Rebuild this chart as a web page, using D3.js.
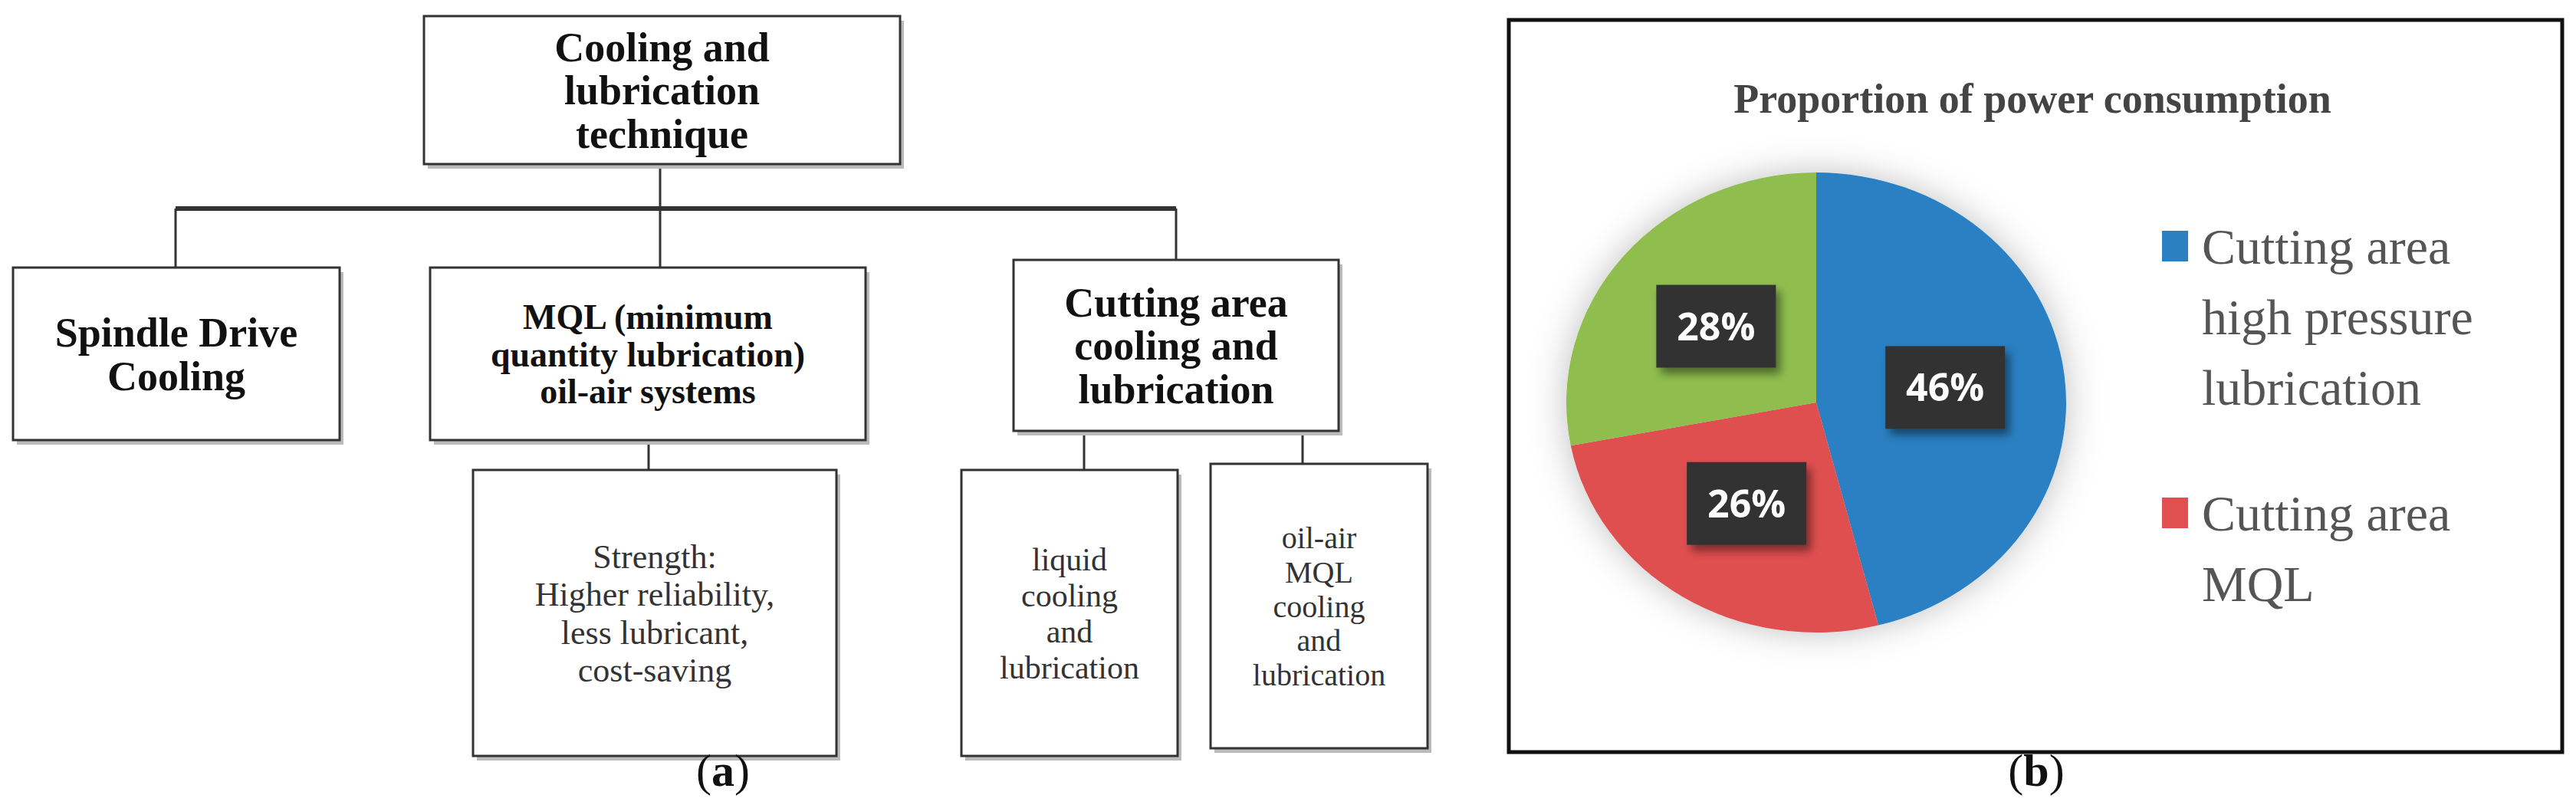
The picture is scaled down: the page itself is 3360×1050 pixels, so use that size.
<!DOCTYPE html>
<html><head><meta charset="utf-8">
<script src="https://cdn.jsdelivr.net/npm/d3@7"></script>
<style>body{margin:0;background:#fff}svg{display:block}</style>
</head><body><div></div>
<script>
const sliceLabels = ["Cutting area high pressure lubrication", "Cutting area MQL", "Other"];
const sliceValues = [46, 26, 28];
const sliceColors = ["#2b80c2", "#e05050", "#8fbe50"];
const legendLines = [["Cutting area", "high pressure", "lubrication"], ["Cutting area", "MQL"]];

const nodes = [
  { id: "root", lines: ["Cooling and", "lubrication", "technique"], x: 553, y: 21, w: 621, h: 193, fs: 54, bold: true },
  { id: "spindle", lines: ["Spindle Drive", "Cooling"], x: 17, y: 349, w: 426, h: 225, fs: 54, bold: true },
  { id: "mql", lines: ["MQL (minimum", "quantity lubrication)", "oil-air systems"], x: 561, y: 349, w: 568, h: 225, fs: 46, bold: true },
  { id: "cut", lines: ["Cutting area", "cooling and", "lubrication"], x: 1322, y: 339, w: 424, h: 223, fs: 54, bold: true },
  { id: "strength", lines: ["Strength:", "Higher reliability,", "less lubricant,", "cost-saving"], x: 617, y: 613, w: 474, h: 373, fs: 44, bold: false },
  { id: "liquid", lines: ["liquid", "cooling", "and", "lubrication"], x: 1254, y: 613, w: 282, h: 373, fs: 42, bold: false },
  { id: "oilair", lines: ["oil-air", "MQL", "cooling", "and", "lubrication"], x: 1579, y: 605, w: 283, h: 371, fs: 40, bold: false }
];

const svg = d3.select("div").append("svg").attr("width", 3360).attr("height", 1050);
const defs = svg.append("defs");
const sh = defs.append("filter").attr("id", "sh").attr("x", "-30%").attr("y", "-30%").attr("width", "160%").attr("height", "160%");
sh.append("feDropShadow").attr("dx", 6).attr("dy", 8).attr("stdDeviation", 6).attr("flood-color", "#000").attr("flood-opacity", 0.45);
const psh = defs.append("filter").attr("id", "psh").attr("x", "-30%").attr("y", "-30%").attr("width", "160%").attr("height", "160%");
psh.append("feDropShadow").attr("dx", 0).attr("dy", 0).attr("stdDeviation", 22).attr("flood-color", "#000").attr("flood-opacity", 0.25);

// --- tree (a)
const tree = svg.append("g").attr("stroke", "#333").attr("fill", "none").attr("stroke-width", 3);
const links = [
  [861, 214, 861, 272], [229, 272, 1534, 272], [229, 272, 229, 349], [861, 272, 861, 349],
  [1534, 272, 1534, 339], [846, 574, 846, 613], [1414, 562, 1414, 613], [1699, 562, 1699, 605]
];
tree.selectAll("line").data(links).join("line")
  .attr("x1", d => d[0]).attr("y1", d => d[1]).attr("x2", d => d[2]).attr("y2", d => d[3])
  .attr("stroke-width", (d, i) => i === 1 ? 6 : 3);

const ng = svg.selectAll("g.node").data(nodes).join("g").attr("class", "node");
ng.append("rect").attr("x", d => d.x + 5).attr("y", d => d.y + 6).attr("width", d => d.w).attr("height", d => d.h)
  .attr("fill", "#bbb");
ng.append("rect").attr("x", d => d.x).attr("y", d => d.y).attr("width", d => d.w).attr("height", d => d.h)
  .attr("fill", "#fff").attr("stroke", "#333").attr("stroke-width", 3);
ng.each(function (d) {
  const lh = d.fs * (d.bold ? 1.05 : 1.12);
  const y0 = d.y + d.h / 2 - (d.lines.length - 1) * lh / 2;
  d3.select(this).selectAll("text").data(d.lines).join("text")
    .attr("x", d.x + d.w / 2).attr("y", (t, i) => y0 + i * lh).attr("dy", "0.35em")
    .attr("text-anchor", "middle").attr("font-family", "Liberation Serif, serif")
    .attr("font-size", d.fs).attr("font-weight", d.bold ? "bold" : "normal")
    .attr("textLength", t => t.length * d.fs * 0.42 > d.w - 16 ? d.w - 16 : null)
    .attr("lengthAdjust", "spacingAndGlyphs")
    .attr("fill", d.bold ? "#111" : "#333").text(t => t);
});

const capFont = "Liberation Serif, serif";
svg.append("text").attr("x", 943).attr("y", 1025).attr("text-anchor", "middle")
  .attr("font-family", capFont).attr("font-size", 60).attr("fill", "#111")
  .html('(<tspan font-weight="bold">a</tspan>)');

// --- pie (b)
svg.append("rect").attr("x", 1968).attr("y", 26).attr("width", 1374).attr("height", 955)
  .attr("fill", "#fff").attr("stroke", "#111").attr("stroke-width", 5);
svg.append("text").attr("x", 2651).attr("y", 128).attr("dy", "0.35em").attr("text-anchor", "middle")
  .attr("font-family", capFont).attr("font-size", 54).attr("font-weight", "bold").attr("fill", "#444")
  .text("Proportion of power consumption");

const cx = 2369, cy = 525, rx = 326, ry = 300;
const pie = d3.pie().sort(null).value(d => d)(sliceValues);
const arc = d3.arc().innerRadius(0).outerRadius(ry);
const pg = svg.append("g").attr("transform", `translate(${cx},${cy}) scale(${rx / ry},1)`).attr("filter", "url(#psh)");
pg.selectAll("path").data(pie).join("path").attr("d", arc).attr("fill", (d, i) => sliceColors[i]);

const labelArc = d3.arc().innerRadius(ry * 0.52).outerRadius(ry * 0.52);
const lg = svg.append("g").attr("transform", `translate(${cx},${cy})`);
const lab = lg.selectAll("g").data(pie).join("g")
  .attr("transform", d => { const c = labelArc.centroid(d); return `translate(${c[0] * rx / ry},${c[1]})`; });
lab.append("rect").attr("x", -78).attr("y", -54).attr("width", 156).attr("height", 108)
  .attr("fill", "#333").attr("filter", "url(#sh)");
lab.append("text").attr("text-anchor", "middle").attr("dy", "0.36em")
  .attr("font-family", "Open Sans, sans-serif").attr("font-weight", "bold").attr("font-size", 50)
  .attr("fill", "#fff").text(d => d.value + "%");

const leg = svg.selectAll("g.leg").data(legendLines).join("g").attr("class", "leg")
  .attr("transform", (d, i) => `translate(2820,${[321, 669][i]})`);
leg.append("rect").attr("x", 0).attr("y", -20).attr("width", 34).attr("height", 40).attr("fill", (d, i) => sliceColors[i]);
leg.each(function (d) {
  d3.select(this).selectAll("text").data(d).join("text")
    .attr("x", 52).attr("y", (t, i) => i * 92).attr("dy", "0.35em")
    .attr("font-family", capFont).attr("font-size", 66).attr("fill", "#555").text(t => t);
});

svg.append("text").attr("x", 2656).attr("y", 1025).attr("text-anchor", "middle")
  .attr("font-family", capFont).attr("font-size", 60).attr("fill", "#111")
  .html('(<tspan font-weight="bold">b</tspan>)');
</script></body></html>
